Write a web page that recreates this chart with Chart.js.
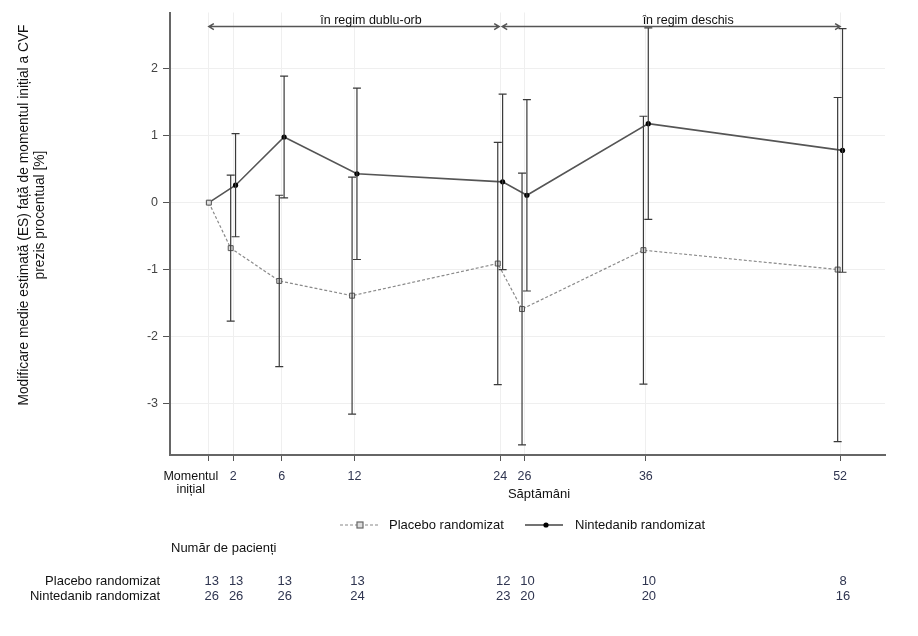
<!DOCTYPE html>
<html>
<head>
    <meta charset="utf-8">
    <title>Modificare CVF</title>
    <style>
        html, body { margin: 0; padding: 0; background: #fff; }
    </style>
</head>
<body>
    <canvas id="cvfChart" width="918" height="636"></canvas>
    <script src="https://cdn.jsdelivr.net/npm/chart.js"></script>
    <script>
        // weeks on the x axis and their tick labels
        const weeks = [0, 2, 6, 12, 24, 26, 36, 52];
        const weekLabels = ['', '2', '6', '12', '24', '26', '36', '52'];
        const baselineLabel = ['Momentul', 'inițial'];
        const yTicks = [-3, -2, -1, 0, 1, 2];

        // estimated mean change and standard error
        const placeboMean = [0, -0.68, -1.17, -1.39, -0.91, -1.59, -0.71, -1.00];
        const placeboSE = [0, 1.09, 1.28, 1.77, 1.81, 2.03, 2.00, 2.57];
        const nintedanibMean = [0, 0.26, 0.98, 0.43, 0.31, 0.11, 1.18, 0.78];
        const nintedanibSE = [0, 0.77, 0.91, 1.28, 1.31, 1.43, 1.43, 1.82];

        // number of patients
        const placeboN = [13, 13, 13, 13, 12, 10, 10, 8];
        const nintedanibN = [26, 26, 26, 24, 23, 20, 20, 16];

        const phases = [
            { from: 0, to: 24, label: 'în regim dublu-orb' },
            { from: 24, to: 52, label: 'în regim deschis' }
        ];

        const dodge = 0.2;
        const font = '"Liberation Sans", Arial, sans-serif';

        function toPoints(means, shift) {
            return weeks.map((w, i) => ({ x: w === 0 ? 0 : w + shift, y: means[i] }));
        }

        const errorBars = {
            id: 'errorBars',
            afterDatasetsDraw(chart) {
                const { ctx, scales: { x, y } } = chart;
                const sets = [[placeboMean, placeboSE, -dodge], [nintedanibMean, nintedanibSE, dodge]];
                ctx.save();
                ctx.strokeStyle = '#3a3a3a';
                ctx.lineWidth = 1.2;
                sets.forEach(([m, se, shift]) => {
                    weeks.forEach((w, i) => {
                        if (se[i] === 0) return;
                        const px = x.getPixelForValue(w + shift);
                        const top = y.getPixelForValue(m[i] + se[i]);
                        const bot = y.getPixelForValue(m[i] - se[i]);
                        ctx.beginPath();
                        ctx.moveTo(px, top); ctx.lineTo(px, bot);
                        ctx.moveTo(px - 4, top); ctx.lineTo(px + 4, top);
                        ctx.moveTo(px - 4, bot); ctx.lineTo(px + 4, bot);
                        ctx.stroke();
                    });
                });
                ctx.restore();
            }
        };

        const extras = {
            id: 'extras',
            afterDraw(chart) {
                const { ctx, scales: { x, y } } = chart;
                ctx.save();

                // phase arrows
                const ay = y.getPixelForValue(2.63);
                ctx.strokeStyle = '#555';
                ctx.lineWidth = 1.5;
                ctx.fillStyle = '#111';
                ctx.font = '12.5px ' + font;
                ctx.textAlign = 'center';
                ctx.textBaseline = 'alphabetic';
                phases.forEach((p, k) => {
                    const x1 = x.getPixelForValue(p.from) + (k > 0 ? 2 : 0);
                    const x2 = x.getPixelForValue(p.to) - (k === 0 ? 1 : 0);
                    ctx.beginPath();
                    ctx.moveTo(x1, ay); ctx.lineTo(x2, ay);
                    ctx.moveTo(x1 + 5, ay - 3); ctx.lineTo(x1, ay); ctx.lineTo(x1 + 5, ay + 3);
                    ctx.moveTo(x2 - 5, ay - 3); ctx.lineTo(x2, ay); ctx.lineTo(x2 - 5, ay + 3);
                    ctx.stroke();
                    ctx.fillText(p.label, (x1 + x2) / 2 + 17, ay - 3);
                });

                // y axis title
                ctx.font = '13.8px ' + font;
                ctx.fillStyle = '#111';
                ctx.textBaseline = 'middle';
                ctx.save();
                ctx.translate(24, 215);
                ctx.rotate(-Math.PI / 2);
                ctx.fillText('Modificare medie estimată (ES) față de momentul inițial a CVF', 0, 0);
                ctx.fillText('prezis procentual [%]', 0, 16);
                ctx.restore();

                // baseline tick label and x title
                ctx.font = '12.5px ' + font;
                const bx = x.getPixelForValue(0) - 18;
                ctx.fillText(baselineLabel[0], bx, 477);
                ctx.fillText(baselineLabel[1], bx, 490);
                ctx.font = '13px ' + font;
                ctx.fillText('Săptămâni', 539, 494);

                // legend
                const ly = 525;
                ctx.lineWidth = 1.2;
                ctx.strokeStyle = '#888';
                ctx.setLineDash([3, 2]);
                ctx.beginPath(); ctx.moveTo(340, ly); ctx.lineTo(378, ly); ctx.stroke();
                ctx.setLineDash([]);
                ctx.fillStyle = '#ddd';
                ctx.strokeStyle = '#666';
                ctx.fillRect(357, ly - 3, 6, 6);
                ctx.strokeRect(357, ly - 3, 6, 6);
                ctx.strokeStyle = '#444';
                ctx.lineWidth = 1.5;
                ctx.beginPath(); ctx.moveTo(525, ly); ctx.lineTo(563, ly); ctx.stroke();
                ctx.fillStyle = '#000';
                ctx.beginPath(); ctx.arc(546, ly, 2.6, 0, Math.PI * 2); ctx.fill();
                ctx.fillStyle = '#111';
                ctx.textAlign = 'left';
                ctx.fillText('Placebo randomizat', 389, ly);
                ctx.fillText('Nintedanib randomizat', 575, ly);

                // patient counts
                ctx.fillText('Număr de pacienți', 171, 548);
                ctx.textAlign = 'right';
                ctx.fillText('Placebo randomizat', 160, 581);
                ctx.fillText('Nintedanib randomizat', 160, 596);
                ctx.textAlign = 'center';
                ctx.fillStyle = '#2f3550';
                weeks.forEach((w, i) => {
                    const px = x.getPixelForValue(w) + 3;
                    ctx.fillText(String(placeboN[i]), px, 581);
                    ctx.fillText(String(nintedanibN[i]), px, 596);
                });

                ctx.restore();
            }
        };

        new Chart(document.getElementById('cvfChart').getContext('2d'), {
            type: 'scatter',
            data: {
                datasets: [{
                    label: 'Placebo randomizat',
                    data: toPoints(placeboMean, -dodge),
                    showLine: true,
                    borderColor: '#8a8a8a',
                    borderWidth: 1.2,
                    borderDash: [3, 2],
                    pointStyle: 'rect',
                    pointRadius: 3.5,
                    pointBackgroundColor: '#ddd',
                    pointBorderColor: '#555',
                    pointBorderWidth: 1
                }, {
                    label: 'Nintedanib randomizat',
                    data: toPoints(nintedanibMean, dodge),
                    showLine: true,
                    borderColor: '#555',
                    borderWidth: 1.6,
                    pointStyle: 'circle',
                    pointRadius: 2.6,
                    pointBackgroundColor: '#000',
                    pointBorderColor: '#000',
                    pointBorderWidth: 0
                }]
            },
            options: {
                responsive: false,
                animation: false,
                layout: { padding: { top: 12, right: 33, bottom: 136, left: 0 } },
                plugins: {
                    legend: { display: false },
                    tooltip: { enabled: false }
                },
                scales: {
                    x: {
                        type: 'linear',
                        min: -3.2,
                        max: 55.7,
                        afterBuildTicks: s => { s.ticks = weeks.map(v => ({ value: v })); },
                        afterFit: s => { s.height = 45; },
                        ticks: {
                            callback: (v, i) => weekLabels[i],
                            font: { family: font, size: 12.5 },
                            color: '#2f3550',
                            padding: 8,
                            maxRotation: 0,
                            autoSkip: false
                        },
                        grid: { color: '#efefef', tickColor: '#555', tickLength: 6 },
                        border: { color: '#666', width: 2 }
                    },
                    y: {
                        min: -3.77,
                        max: 2.84,
                        afterBuildTicks: s => { s.ticks = yTicks.map(v => ({ value: v })); },
                        afterFit: s => { s.width = 170; },
                        ticks: {
                            font: { family: font, size: 12.5 },
                            color: '#444',
                            padding: 5
                        },
                        grid: { color: '#efefef', tickColor: '#555', tickLength: 7 },
                        border: { color: '#666', width: 2 }
                    }
                }
            },
            plugins: [errorBars, extras]
        });
    </script>
</body>
</html>
